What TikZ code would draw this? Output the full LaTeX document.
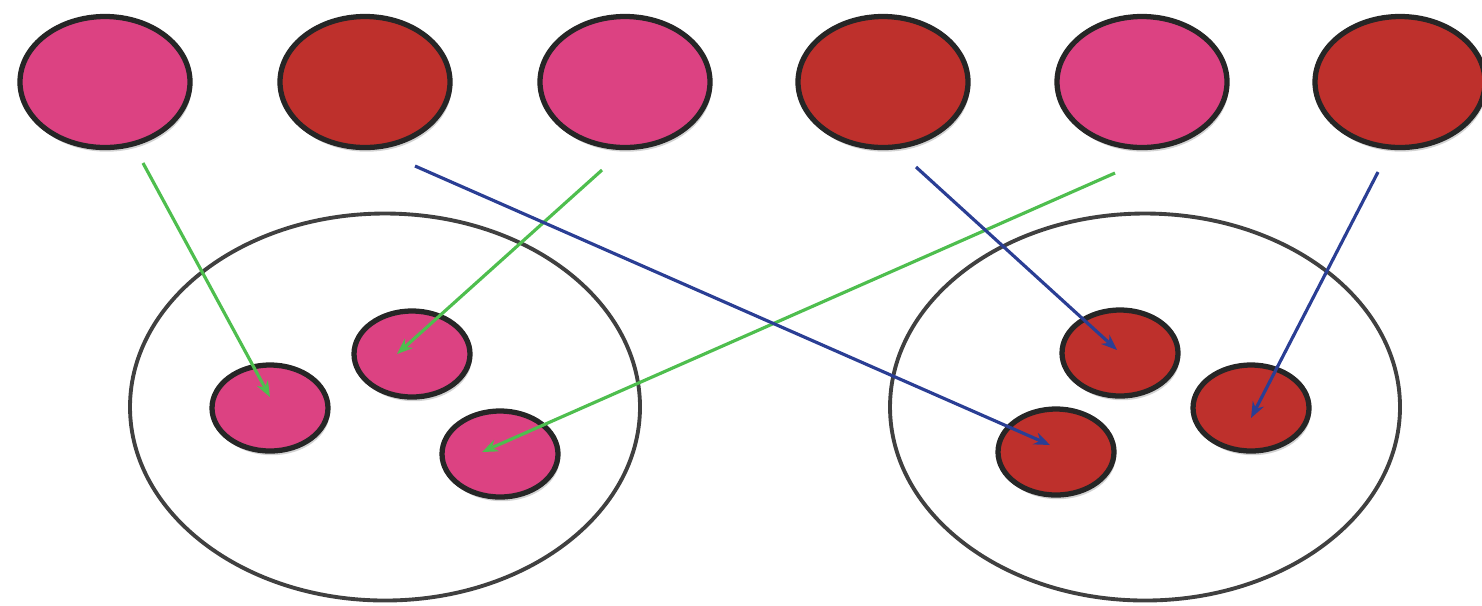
\documentclass[tikz,border=0pt]{standalone}
\definecolor{cellpink}{RGB}{220,66,130}
\definecolor{cellred}{RGB}{190,48,44}
\definecolor{linkgreen}{RGB}{78,190,78}
\definecolor{linkblue}{RGB}{42,62,148}
\usetikzlibrary{arrows.meta, shapes.geometric, shadows}

\begin{document}
\begin{tikzpicture}[
          cell/.style={
              ellipse,
              draw=black!85,
              line width=1.5pt,
              inner sep=0pt,
              drop shadow={opacity=0.35, shadow xshift=0.5pt, shadow yshift=-1.2pt}
            },
          big/.style={cell, minimum width=1.70cm, minimum height=1.31cm},
          small/.style={cell, minimum width=1.16cm, minimum height=0.86cm},
          group/.style={
              ellipse,
              draw=black!75,
              line width=1.1pt,
              minimum width=5.1cm,
              minimum height=3.87cm
            },
          greenarr/.style={-{Stealth[length=4.5pt, width=3.5pt]}, linkgreen, line width=0.9pt},
          bluearr/.style={-{Stealth[length=4.5pt, width=3.5pt]}, linkblue, line width=0.9pt}
        ]
        \useasboundingbox (0,0) rectangle (14.82,-6.05);

        % top row
        \node[big, fill=cellpink] (top1) at (1.05,-0.82) {};
        \node[big, fill=cellred]  (top2) at (3.65,-0.82) {};
        \node[big, fill=cellpink] (top3) at (6.25,-0.82) {};
        \node[big, fill=cellred]  (top4) at (8.83,-0.82) {};
        \node[big, fill=cellpink] (top5) at (11.42,-0.82) {};
        \node[big, fill=cellred]  (top6) at (14.00,-0.82) {};

        % the two groups
        \node[group] (leftset)  at (3.85,-4.07) {};
        \node[group] (rightset) at (11.45,-4.07) {};

        \node[small, fill=cellpink] (lp1) at (2.70,-4.08) {};
        \node[small, fill=cellpink] (lp2) at (4.12,-3.54) {};
        \node[small, fill=cellpink] (lp3) at (5.00,-4.54) {};

        \node[small, fill=cellred] (rr1) at (11.20,-3.53) {};
        \node[small, fill=cellred] (rr2) at (12.51,-4.08) {};
        \node[small, fill=cellred] (rr3) at (10.56,-4.52) {};

        % start points below the top row
        \coordinate (g1) at (1.43,-1.63);
        \coordinate (g2) at (6.02,-1.70);
        \coordinate (g3) at (11.15,-1.73);
        \coordinate (b1) at (4.15,-1.66);
        \coordinate (b2) at (9.16,-1.67);
        \coordinate (b3) at (13.78,-1.72);

        \draw[greenarr] (g1) -- ([yshift=0.11cm]lp1.center);
        \draw[greenarr] (g2) -- ([xshift=-0.15cm]lp2.center);
        \draw[greenarr] (g3) -- ([shift={(-0.18,0.02)}]lp3.center);
        \draw[bluearr] (b1) -- ([shift={(-0.06,0.07)}]rr3.center);
        \draw[bluearr] (b2) -- ([shift={(-0.03,0.03)}]rr1.center);
        \draw[bluearr] (b3) -- ([yshift=-0.10cm]rr2.center);
      \end{tikzpicture}
\end{document}
